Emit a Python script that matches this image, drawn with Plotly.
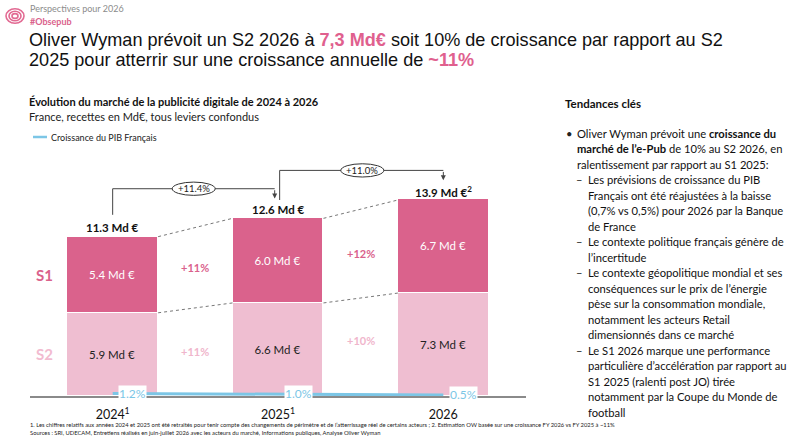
import plotly.graph_objects as go

# chart data (Md €)
years = [0, 1, 2]
year_labels = ["2024<sup>1</sup>", "2025<sup>1</sup>", "2026"]
s1_values = [5.4, 6.0, 6.7]
s2_values = [5.9, 6.6, 7.3]
totals = [11.3, 12.6, 13.9]
total_labels = ["11.3 Md €", "12.6 Md €", "13.9 Md €<sup>2</sup>"]
yoy_labels = ["+11.4%", "+11.0%"]
s1_growth = ["+11%", "+12%"]
s2_growth = ["+11%", "+10%"]
gdp_growth = [1.2, 1.0, 0.5]
gdp_labels = ["1.2%", "1.0%", "0.5%"]

DARK_PINK = "#DA628C"
LIGHT_PINK = "#EFBED1"
BLUE = "#7CC6E6"
CAL = "Lato"
ARIAL = "Liberation Sans"

W, H = 800, 441
X0, X1, Y0, Y1 = 30, 526, 160, 396   # plot area in pixels
PW = X1 - X0
PH = Y1 - Y0


def pp(x, y):
    # pixel position -> paper coords
    return (x - X0) / PW, (Y1 - y) / PH


fig = go.Figure()

fig.add_trace(go.Bar(
    x=years, y=s2_values, name="S2", width=0.55,
    marker=dict(color=LIGHT_PINK, line=dict(color="white", width=1)),
    texttemplate="%{y:.1f} Md €", textposition="inside", insidetextanchor="middle",
    textangle=0, textfont=dict(family=CAL, size=11.5, color="#222222"),
))
fig.add_trace(go.Bar(
    x=years, y=s1_values, name="S1", width=0.55,
    marker=dict(color=DARK_PINK, line=dict(color="white", width=1)),
    texttemplate="%{y:.1f} Md €", textposition="inside", insidetextanchor="middle",
    textangle=0, textfont=dict(family=CAL, size=11.5, color="white"),
))
fig.add_trace(go.Scatter(
    x=years, y=gdp_growth, yaxis="y2", mode="lines",
    line=dict(color=BLUE, width=3), name="Croissance du PIB Français",
))

shapes = []
ann = []
hw = 0.275

# dotted connectors between bars
for i in range(2):
    for a, b in [(totals[i], totals[i + 1]), (s2_values[i], s2_values[i + 1])]:
        shapes.append(dict(type="line", xref="x", yref="y", x0=i + hw, x1=i + 1 - hw,
                           y0=a, y1=b, line=dict(color="#777777", width=1, dash="dot")))

# total labels
for i in range(3):
    ann.append(dict(x=years[i], y=totals[i], xref="x", yref="y", text="<b>%s</b>" % total_labels[i],
                    showarrow=False, yshift=9, font=dict(family=CAL, size=11.5, color="#111111")))

# year-over-year brackets
offs = [(0.0, -0.02), (0.01, 0.0)]
for i in range(2):
    xs = i + offs[i][0]
    xe = i + 1 + offs[i][1]
    y_start = totals[i] + (1.55 if i == 0 else 1.3)
    y_top = totals[i + 1] + 2.1
    y_end = totals[i + 1] + 1.4
    shapes.append(dict(type="path", xref="x", yref="y",
                       path="M %f,%f L %f,%f L %f,%f" % (xs, y_start, xs, y_top, xe, y_top),
                       line=dict(color="#444444", width=1)))
    ann.append(dict(x=xe, y=y_end, ax=xe, ay=y_top, xref="x", yref="y", axref="x", ayref="y",
                    text="", showarrow=True, arrowhead=2, arrowsize=1, arrowwidth=1,
                    arrowcolor="#444444"))
    xm = i + 0.49 if i == 0 else i + 0.51
    shapes.append(dict(type="circle", xref="x", yref="y", x0=xm - 0.13, x1=xm + 0.13,
                       y0=y_top - 0.47, y1=y_top + 0.47, fillcolor="white",
                       line=dict(color="#333333", width=1)))
    ann.append(dict(x=xm, y=y_top, xref="x", yref="y", text=yoy_labels[i], showarrow=False,
                    font=dict(family=CAL, size=9.5, color="#222222")))

# half-year growth labels
for i in range(2):
    y1 = (s2_values[i] + s1_values[i] / 2 + s2_values[i + 1] + s1_values[i + 1] / 2) / 2
    y2 = (s2_values[i] / 2 + s2_values[i + 1] / 2) / 2
    ann.append(dict(x=i + 0.5, y=y1, xref="x", yref="y", text="<b>%s</b>" % s1_growth[i],
                    showarrow=False, font=dict(family=CAL, size=11, color=DARK_PINK)))
    ann.append(dict(x=i + 0.5, y=y2, xref="x", yref="y", text="<b>%s</b>" % s2_growth[i],
                    showarrow=False, yshift=(0 if i == 0 else 7),
                    font=dict(family=CAL, size=11, color="#F0B6CC")))

# S1 / S2 row labels
ann.append(dict(x=-0.41, y=s2_values[0] + s1_values[0] / 2, xref="x", yref="y", text="<b>S1</b>",
                showarrow=False, font=dict(family=CAL, size=15, color=DARK_PINK)))
ann.append(dict(x=-0.41, y=s2_values[0] / 2, xref="x", yref="y", text="<b>S2</b>",
                showarrow=False, font=dict(family=CAL, size=15, color="#F2BBD0")))

# GDP labels
for i in range(3):
    ann.append(dict(x=years[i], y=gdp_growth[i], xref="x", yref="y2", text=gdp_labels[i],
                    showarrow=False, xshift=20, bgcolor="white", borderpad=0,
                    font=dict(family=CAL, size=12, color=BLUE)))


def text(x, y, s, size, color="#111111", family=CAL, anchor="middle"):
    xp, yp = pp(x, y)
    ann.append(dict(x=xp, y=yp, xref="paper", yref="paper", text=s, showarrow=False,
                    xanchor="left", yanchor=anchor, align="left",
                    font=dict(family=family, size=size, color=color)))


# header
text(28, 9, "Perspectives pour 2026", 9, "#8C8C8C")
text(28, 21, "<b>#Obsepub</b>", 9, DARK_PINK)
pink = "<span style='color:#E0608E'>%s</span>"
text(27, 40, "Oliver Wyman prévoit un S2 2026 à " + pink % "<b>7,3 Md€</b>"
     + " soit 10% de croissance par rapport au S2", 18.1, "#111111", ARIAL)
text(27, 60, "2025 pour atterrir sur une croissance annuelle de " + pink % "<b>~11%</b>",
     18.1, "#111111", ARIAL)

# logo
for r in [3, 6, 9]:
    lx0, ly0 = pp(15 - r, 16 - r * 0.8)
    lx1, ly1 = pp(15 + r, 16 + r * 0.8)
    shapes.append(dict(type="circle", xref="paper", yref="paper", x0=lx0, x1=lx1, y0=ly0, y1=ly1,
                       line=dict(color="#E26A93", width=1.6)))

# chart titles and legend
text(27, 101, "<b>Évolution du marché de la publicité digitale de 2024 à 2026</b>", 11)
text(27, 116, "France, recettes en Md€, tous leviers confondus", 11, "#222222")
lgx0, lgy = pp(33, 137)
lgx1, _ = pp(47, 137)
shapes.append(dict(type="line", xref="paper", yref="paper", x0=lgx0, x1=lgx1, y0=lgy, y1=lgy,
                   line=dict(color=BLUE, width=2.5)))
text(49, 137, "Croissance du PIB Français", 9, "#222222")

# right panel, one entry per line: (marker, indent level, text)
panel_lines = [
    ("•", 0, "Oliver Wyman prévoit une <b>croissance du</b>"),
    ("", 0, "<b>marché de l’e-Pub</b> de 10% au S2 2026, en"),
    ("", 0, "ralentissement par rapport au S1 2025:"),
    ("–", 1, "Les prévisions de croissance du PIB"),
    ("", 1, "Français ont été réajustées à la baisse"),
    ("", 1, "(0,7% vs 0,5%) pour 2026 par la Banque"),
    ("", 1, "de France"),
    ("–", 1, "Le contexte politique français génère de"),
    ("", 1, "l’incertitude"),
    ("–", 1, "Le contexte géopolitique mondial et ses"),
    ("", 1, "conséquences sur le prix de l’énergie"),
    ("", 1, "pèse sur la consommation mondiale,"),
    ("", 1, "notamment les acteurs Retail"),
    ("", 1, "dimensionnés dans ce marché"),
    ("–", 1, "Le S1 2026 marque une performance"),
    ("", 1, "particulière d’accélération par rapport au"),
    ("", 1, "S1 2025 (ralenti post JO) tirée"),
    ("", 1, "notamment par la Coupe du Monde de"),
    ("", 1, "football"),
]
text(563, 103, "<b>Tendances clés</b>", 11.5)
for k, (mark, lvl, s) in enumerate(panel_lines):
    y = 133 + 15.5 * k
    if mark:
        text(564 if lvl == 0 else 574, y, mark, 11.2, "#222222")
    text(575 if lvl == 0 else 586, y, s, 11.2, "#111111")

# footnotes
text(28, 424, "1. Les chiffres relatifs aux années 2024 et 2025 ont été retraités pour tenir compte des changements "
     "de périmètre et de l’atterrissage réel de certains acteurs ; 2. Estimation OW basée sur une croissance "
     "FY 2026 vs FY 2025 à ~11%", 5.8, "#222222")
text(28, 432, "Sources : SRI, UDECAM, Entretiens réalisés en juin-juillet 2026 avec les acteurs du marché, "
     "Informations publiques, Analyse Oliver Wyman", 5.8, "#222222")

fig.update_layout(
    width=W, height=H,
    margin=dict(l=X0, r=W - X1, t=Y0, b=H - Y1),
    barmode="stack", bargap=0,
    showlegend=False,
    plot_bgcolor="white", paper_bgcolor="white",
    xaxis=dict(range=[-0.5, 2.5], tickvals=years, ticktext=year_labels, showgrid=False,
               zeroline=False, showline=True, linecolor="#8A8A8A", linewidth=1.5, ticks="",
               ticklabelstandoff=6, tickfont=dict(family=CAL, size=12.5, color="#111111")),
    yaxis=dict(range=[0, PH / 14.1], visible=False, fixedrange=True),
    yaxis2=dict(range=[0, 113], overlaying="y", visible=False),
    shapes=shapes,
    annotations=ann,
)

# drop the default page margin so the figure sits at the window corner
fig.write_html("out.html", config={"displayModeBar": False},
               post_script="document.body.style.margin='0';")
